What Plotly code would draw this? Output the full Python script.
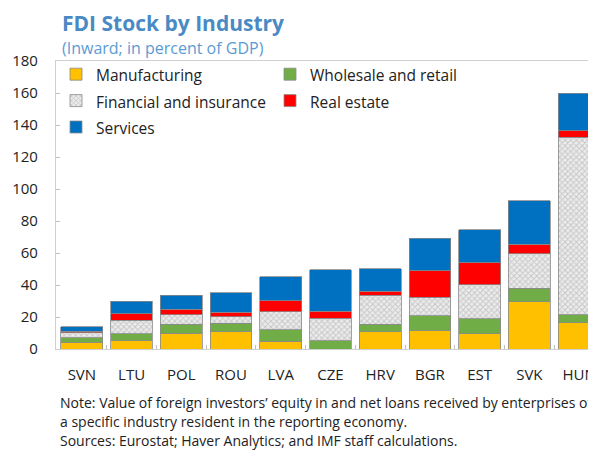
import plotly.graph_objects as go

countries = ["SVN", "LTU", "POL", "ROU", "LVA", "CZE", "HRV", "BGR", "EST", "SVK", "HUN"]
manufacturing = [4.1, 5.2, 10.0, 10.8, 5.0, None, 10.8, 11.4, 9.6, 29.6, 16.3]
wholesale = [2.9, 4.4, 5.4, 5.4, 6.9, 5.2, 4.8, 9.4, 9.2, 8.3, 5.2]
financial = [3.3, 8.3, 6.0, 4.1, 11.3, 13.9, 17.9, 11.4, 21.4, 21.7, 111.0]
real_estate = [0.9, 4.2, 3.3, 2.7, 7.1, 4.6, 2.7, 16.7, 13.6, 6.0, 3.9]
services = [2.7, 7.7, 9.0, 12.3, 15.0, 25.8, 14.1, 20.4, 20.6, 27.1, 23.3]

series_names = ["Manufacturing", "Wholesale and retail", "Financial and insurance", "Real estate", "Services"]
y_ticks = [0, 20, 40, 60, 80, 100, 120, 140, 160, 180]

title_text = "FDI Stock by Industry"
subtitle_text = "(Inward; in percent of GDP)"
note_lines = [
    "Note: Value of foreign investors\u2019 equity in and net loans received by enterprises of",
    "a specific industry resident in the reporting economy.",
    "Sources: Eurostat; Haver Analytics; and IMF staff calculations.",
]

FONT = "Open Sans"
OFF = 8  # page body margin
W, H = 596 - OFF, 450 - OFF
L, R, T = 56 - OFF, 0, 61 - OFF
B = H - (349 - OFF)
PW, PH = W - L - R, H - T - B


def px(x):
    return (x - OFF - L) / PW


def py(y):
    return (H - B - (y - OFF)) / PH


def lg(name):
    return "<span style='font-size:15.5px'>" + name + "</span>"


fig = go.Figure()
edge = dict(color="#8a8a8a", width=0.8)
fig.add_trace(go.Bar(x=countries, y=manufacturing, name=lg(series_names[0]),
                     marker=dict(color="#FFC000", line=edge)))
fig.add_trace(go.Bar(x=countries, y=wholesale, name=lg(series_names[1]),
                     marker=dict(color="#70AD47", line=edge)))
fig.add_trace(go.Bar(x=countries, y=financial, name=lg(series_names[2]),
                     marker=dict(color="#e8e8e8", line=edge,
                                 pattern=dict(shape="x", fgcolor="#a3a3a3", bgcolor="#ececec",
                                              size=4, solidity=0.45))))
fig.add_trace(go.Bar(x=countries, y=real_estate, name=lg(series_names[3]),
                     marker=dict(color="#FF0000", line=edge)))
fig.add_trace(go.Bar(x=countries, y=services, name=lg(series_names[4]),
                     marker=dict(color="#0070C0", line=edge)))

fig.update_layout(
    width=W, height=H,
    margin=dict(l=L, r=R, t=T, b=B, pad=0),
    paper_bgcolor="white", plot_bgcolor="white",
    barmode="stack", bargap=0.16,
    font=dict(family=FONT, color="#222222", size=15),
    showlegend=True,
    legend=dict(orientation="h", x=0, y=py(56), xanchor="left", yanchor="top",
                traceorder="normal", entrywidth=169, entrywidthmode="pixels",
                font=dict(size=18, family=FONT, color="#222222"),
                bgcolor="rgba(0,0,0,0)", itemclick=False),
    xaxis=dict(type="category", range=[-0.52, 10.28], showline=True, linecolor="#cfcfcf",
               linewidth=1.2, mirror=True, ticks="inside", tickson="boundaries", ticklen=4,
               tickcolor="#bfbfbf", tickfont=dict(size=15), ticklabelstandoff=12,
               showgrid=False, fixedrange=True),
    yaxis=dict(range=[0, 180], tickvals=y_ticks, showline=True, linecolor="#cfcfcf",
               linewidth=1.2, ticks="inside", ticklen=4, tickcolor="#bfbfbf",
               tickfont=dict(size=15), ticklabelstandoff=14, showgrid=False, zeroline=False,
               fixedrange=True),
)

annotations = [
    dict(text="<b>" + title_text + "</b>", x=px(60), y=py(23), xanchor="left", yanchor="middle",
         font=dict(size=21, color="#4A8AC4", family=FONT)),
    dict(text=subtitle_text, x=px(60), y=py(48), xanchor="left", yanchor="middle",
         font=dict(size=16, color="#5B9BD5", family=FONT)),
]
for i, line in enumerate(note_lines):
    annotations.append(dict(text=line, x=px(58), y=py(402 + 19 * i), xanchor="left",
                            yanchor="middle", font=dict(size=14, color="#222222", family=FONT)))
for a in annotations:
    a.update(xref="paper", yref="paper", showarrow=False, align="left")
fig.update_layout(annotations=annotations)

fig.write_html("out.html")
